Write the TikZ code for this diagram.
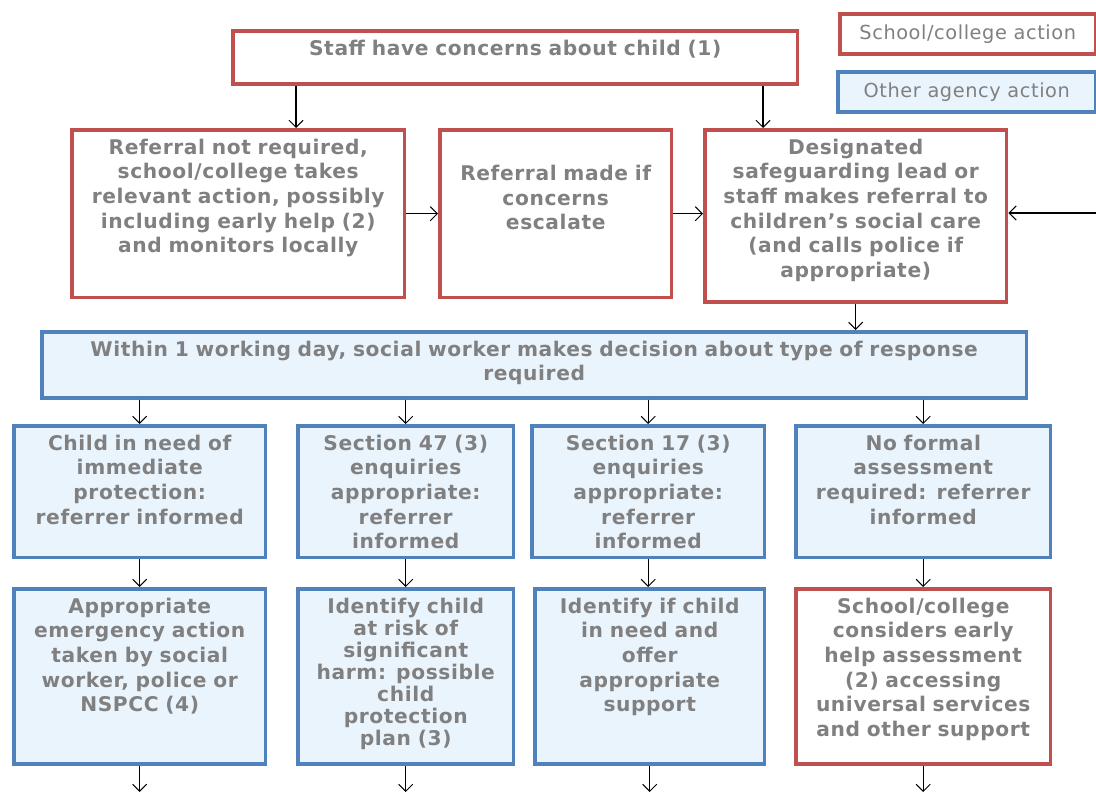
\documentclass[tikz,border=0pt]{standalone}
\usepackage{fontspec}
\setmainfont{DejaVu Sans}
\newfontfamily\flowfont[LetterSpace=3]{DejaVu Sans}
\usetikzlibrary{arrows.meta}
\definecolor{schoolred}{RGB}{192,80,77}
\definecolor{agencyblue}{RGB}{79,129,189}
\definecolor{agencyfill}{RGB}{234,244,253}
\definecolor{txtgray}{RGB}{128,128,128}
\newcommand{\boxfont}{\flowfont\fontsize{11.5}{14}\selectfont\bfseries}
\tikzset{
  flowbox/.style={draw, line width=2pt, inner sep=0pt, anchor=north west, align=center, text height=14pt, text=txtgray, font=\boxfont},
  schoolbox/.style={flowbox, draw=schoolred, fill=white},
  agencybox/.style={flowbox, draw=agencyblue, fill=agencyfill},
  legendbox/.style={draw, line width=2pt, inner sep=0pt, anchor=north west, minimum height=0.8cm, text=txtgray, font=\flowfont\fontsize{11}{13}\selectfont},
  flow/.style={-{Straight Barb[length=4pt,width=8pt]}, line width=0.6pt},
}
\begin{document}
\begin{tikzpicture}[x=0.02cm,y=-0.02cm]
\useasboundingbox (0,0) rectangle (1096,794);

\node[legendbox, draw=schoolred, fill=white, minimum width=5.12cm] (legschool) at (838,12) {School/college action};
\node[legendbox, draw=agencyblue, fill=agencyfill, minimum width=5.16cm] (legagency) at (836,70) {Other agency action};

\node[schoolbox, text width=11.3cm, text depth=16.2pt] (staff) at (231,29) {Staff have concerns about child (1)};
\node[schoolbox, text width=6.66cm, text depth=81.6pt] (A) at (70,128) {Referral not required,\\ school/college takes\\ relevant action, possibly\\ including early help (2)\\ and monitors locally};
\node[schoolbox, text width=4.64cm, text height=29pt, text depth=66.6pt] (B) at (438,128) {Referral made if\\ concerns\\ escalate};
\node[schoolbox, text width=6.04cm, text depth=83.9pt] (C) at (703,128) {Designated\\ safeguarding lead or\\ staff makes referral to\\ children’s social care\\ (and calls police if\\ appropriate)};

\node[agencybox, text width=19.7cm, text depth=23.6pt] (wide) at (40,330) {Within 1 working day, social worker makes decision about type of response\\ required};

\node[agencybox, text width=5.04cm, text depth=61.1pt] (D1) at (12,424) {Child in need of\\ immediate\\ protection:\\ referrer informed};
\node[agencybox, text width=4.32cm, text depth=61.1pt] (D2) at (296,424) {Section 47 (3)\\ enquiries\\ appropriate:\\ referrer\\ informed};
\node[agencybox, text width=4.66cm, text depth=61.1pt] (D3) at (530,424) {Section 17 (3)\\ enquiries\\ appropriate:\\ referrer\\ informed};
\node[agencybox, text width=5.1cm, text depth=61.1pt] (D4) at (794,424) {No formal\\ assessment\\ required: referrer\\ informed};

\node[agencybox, text width=5.04cm, text depth=85.6pt] (E1) at (12,587) {Appropriate\\ emergency action\\ taken by social\\ worker, police or\\ NSPCC (4)};
\node[agencybox, text width=4.32cm, text depth=85.6pt, font=\flowfont\fontsize{11.5}{12.5}\selectfont\bfseries] (E2) at (296,587) {Identify child\\ at risk of\\ significant\\ harm: possible\\ child\\ protection\\ plan (3)};
\node[agencybox, text width=4.6cm, text depth=85.6pt] (E3) at (533,587) {Identify if child\\ in need and\\ offer\\ appropriate\\ support};
\node[schoolbox, text width=5.1cm, text depth=85.6pt] (E4) at (794,587) {School/college\\ considers early\\ help assessment\\ (2) accessing\\ universal services\\ and other support};

\draw[flow] (staff.south -| 296,0) -- (A.north -| 296,0);
\draw[flow] (staff.south -| 763,0) -- (C.north -| 763,0);
\draw[flow] (A.east) -- (B.west);
\draw[flow] (B.east) -- (B.east -| C.west);
\coordinate (feedback) at (1096,213);
\draw[flow] (feedback) -- (feedback -| C.east);
\draw[flow] (C.south) -- (C.south |- wide.north);

\draw[flow] (wide.south -| D1.north) -- (D1.north);
\draw[flow] (wide.south -| D2.north) -- (D2.north);
\draw[flow] (wide.south -| D3.north) -- (D3.north);
\draw[flow] (wide.south -| D4.north) -- (D4.north);

\draw[flow] (D1.south) -- (D1.south |- E1.north);
\draw[flow] (D2.south) -- (D2.south |- E2.north);
\draw[flow] (D3.south) -- (D3.south |- E3.north);
\draw[flow] (D4.south) -- (D4.south |- E4.north);

\draw[flow] (E1.south) -- (E1.south |- 0,792);
\draw[flow] (E2.south) -- (E2.south |- 0,792);
\draw[flow] (E3.south) -- (E3.south |- 0,792);
\draw[flow] (E4.south) -- (E4.south |- 0,792);
\end{tikzpicture}
\end{document}
